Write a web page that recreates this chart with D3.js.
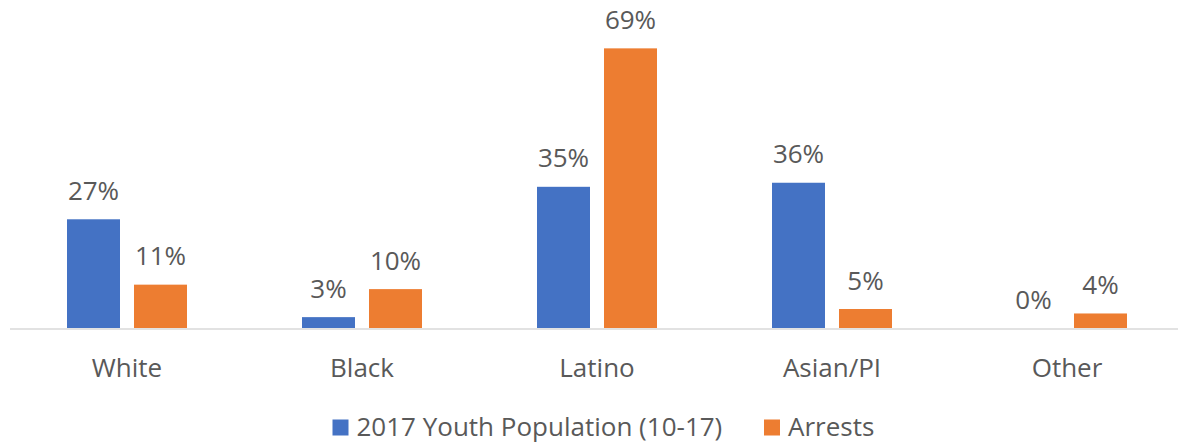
<!DOCTYPE html>
<html>
<head>
<meta charset="utf-8">
<script src="https://cdn.jsdelivr.net/npm/d3@7"></script>
<style>
  html, body { margin: 0; padding: 0; background: #fff; }
  svg { display: block; }
  text { font-family: "Open Sans", "Noto Sans", sans-serif; fill: #595959; }
</style>
</head>
<body>
<svg id="chart" width="1178" height="444"></svg>
<script>
const categories = ["White", "Black", "Latino", "Asian/PI", "Other"];
const seriesNames = ["2017 Youth Population (10-17)", "Arrests"];
const youthPopulation = [26.9, 2.8, 34.9, 35.9, 0];
const arrests = [10.8, 9.7, 69.0, 4.8, 3.7];
const colors = ["#4472C4", "#ED7D31"];

const seriesValues = [youthPopulation, arrests];
const data = categories.map((c, i) => ({
  category: c,
  values: seriesNames.map((s, j) => ({ series: s, idx: j, value: seriesValues[j][i] }))
}));

const svg = d3.select("#chart");
const baseY = 328.5;
const fontSize = 26;

const x = d3.scaleBand()
  .domain(categories)
  .range([9.5, 1184.5])
  .paddingInner(0.4894)
  .paddingOuter(0.2447);

const xInner = d3.scaleBand()
  .domain(seriesNames)
  .range([0, x.bandwidth()])
  .paddingInner(0.209)
  .paddingOuter(0);

const y = d3.scaleLinear()
  .domain([0, 70])
  .range([baseY, baseY - 70 * 4.06]);

// axis line
const axis = svg.append("g")
  .attr("transform", `translate(0,${baseY})`)
  .call(d3.axisBottom(x).tickSize(0).tickFormat(""));
axis.select(".domain").attr("stroke", "#D9D9D9").attr("stroke-width", 1.5);

// category labels
svg.append("g").selectAll("text")
  .data(categories)
  .join("text")
  .attr("x", d => x(d) + x.bandwidth() / 2)
  .attr("y", 377)
  .attr("text-anchor", "middle")
  .attr("font-size", fontSize)
  .text(d => d);

const groups = svg.append("g").selectAll("g")
  .data(data)
  .join("g")
  .attr("transform", d => `translate(${x(d.category)},0)`);

groups.selectAll("rect")
  .data(d => d.values)
  .join("rect")
  .attr("x", d => xInner(d.series))
  .attr("width", xInner.bandwidth())
  .attr("y", d => y(d.value))
  .attr("height", d => Math.max(0, baseY - 0.5 - y(d.value)))
  .attr("fill", d => colors[d.idx]);

groups.selectAll("text.lbl")
  .data(d => d.values)
  .join("text")
  .attr("class", "lbl")
  .attr("x", d => xInner(d.series) + xInner.bandwidth() / 2)
  .attr("y", d => y(d.value) - 19.5)
  .attr("text-anchor", "middle")
  .attr("font-size", fontSize)
  .text(d => Math.round(d.value) + "%");

// legend
const legendItems = [
  { name: seriesNames[0], color: colors[0], x: 332.5 },
  { name: seriesNames[1], color: colors[1], x: 764 }
];
const legend = svg.append("g").selectAll("g")
  .data(legendItems)
  .join("g")
  .attr("transform", d => `translate(${d.x},0)`);
legend.append("rect")
  .attr("x", 0).attr("y", 419.5)
  .attr("width", 16).attr("height", 16)
  .attr("fill", d => d.color);
legend.append("text")
  .attr("x", 24).attr("y", 436)
  .attr("font-size", fontSize)
  .text(d => d.name);
</script>
</body>
</html>
